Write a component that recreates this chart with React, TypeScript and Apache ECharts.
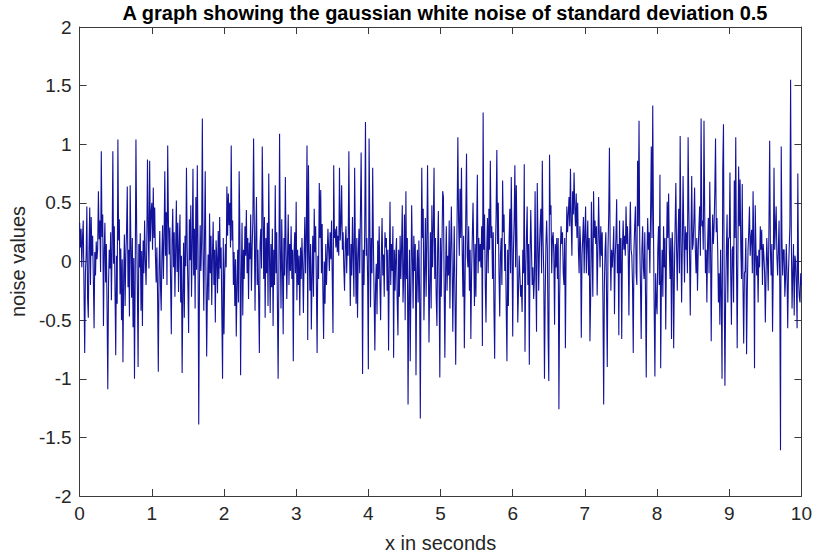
import React, { useEffect, useRef } from "react";
import * as echarts from "echarts";

const titleText = "A graph showing the gaussian white noise of standard deviation 0.5";
const xName = "x in seconds";
const yName = "noise values";
const step = 0.01;

const seg0 = [0.33,0.12,0.28,-0.05,0.21,0.35,-0.22,-0.78,-0.1,0.05,0.47,-0.31,-0.48,0.12,0.46,-0.2,0.38,0.05,0.22,-0.15,-0.57,0.08,-0.12,0.17,0.02,0.11,0.6,0.19,0.35,-0.09,0.94,0.21,0.4,-0.55,0.08,0.33,-0.18,0.15,-0.41,-1.09,-0.2,0.1,-0.06,0.25,-0.33,0.12,0.94,-0.02,0.3,-0.25,-0.8,0.05,-0.36,1.04,0.18,0.36,-0.28,0.11,-0.5,0.02,-0.86,-0.14,0.23,-0.38,0.06,0.26,0.64,-0.22,0.1,-0.47,0.65,0.14,-0.31,0.2,-0.56,0.03,-1.0,-0.12,1.04,0.27,-0.23,-0.9,0.15,-0.05,0.24,-0.42,0.09,-0.55,0.18,-0.1,0.35,0.02,-0.2,0.12,0.87,0.28,-0.06,0.86,0.17,0.42];
const seg1 = [0.5,0.1,0.63,0.2,0.46,0.05,-0.18,0.12,-0.3,-0.94,-0.08,0.26,-0.21,-0.42,0.07,0.31,-0.15,0.2,0.77,0.05,0.42,-0.2,0.99,0.34,0.06,0.29,-0.17,-0.62,0.18,0.45,-0.05,0.25,-0.3,0.1,0.52,-0.09,0.33,-0.26,0.14,0.4,-0.35,0.05,-0.95,-0.29,0.16,-0.48,0.22,-0.04,0.8,0.12,-0.22,-0.61,0.36,0.01,0.48,-0.3,0.15,0.79,-0.12,0.28,-0.4,0.55,-0.07,0.82,0.13,-1.39,-0.2,0.31,-0.08,0.17,1.22,0.06,-0.42,0.2,0.77,-0.14,-0.81,-0.25,0.06,-0.33,0.41,-0.1,0.22,-0.37,0.05,0.34,-0.2,0.1,-0.52,0.18,0.03,-0.27,0.26,-0.15,0.38,-0.06,0.12,-0.45,-1.0,0.2];
const seg2 = [-0.62,-0.1,0.15,-0.05,0.64,0.22,0.58,0.31,0.5,0.12,0.99,0.18,0.35,-0.2,0.08,-0.38,0.02,-0.64,-0.21,0.1,-0.35,0.77,0.25,-0.97,-0.12,0.33,-0.46,0.1,-0.15,0.3,0.05,0.44,-0.1,0.2,-0.32,0.16,0.02,0.4,-0.25,0.12,0.35,1.05,0.3,-0.42,0.2,0.55,-0.2,0.1,-0.3,-0.78,0.15,0.28,-0.06,0.98,0.45,-0.15,0.38,-0.48,0.2,-0.1,0.33,-0.38,0.75,0.04,-0.44,0.15,-0.22,0.28,-0.55,0.1,-0.2,0.65,-0.1,0.25,-0.35,-1.0,-0.15,1.09,0.12,-0.4,0.36,-0.05,-0.62,0.2,-0.12,0.72,0.1,-0.32,0.05,0.4,-0.2,0.15,-0.08,0.3,-0.15,0.1,-0.85,0.05,0.25,-0.1];
const seg3 = [0.51,-0.33,0.1,-0.2,0.05,-0.46,0.12,-0.15,0.2,-0.05,-0.44,0.06,0.38,-0.1,0.25,0.99,-0.67,0.82,0.1,-0.25,0.15,-0.58,-0.12,0.22,-0.3,0.45,0.08,0.3,-0.2,-0.78,0.05,-0.15,0.67,0.2,0.61,-0.1,0.32,-0.25,-0.66,0.0,-0.36,0.15,-0.2,0.05,0.28,0.1,-0.08,0.25,0.02,0.35,-0.15,-0.61,0.82,0.2,0.28,0.12,0.3,0.08,0.22,0.05,0.8,0.18,0.32,0.65,0.1,0.25,-0.05,-0.25,0.15,0.3,-0.1,0.2,0.05,0.94,0.1,-0.38,0.15,-0.12,0.38,0.05,-0.3,0.8,0.12,-0.36,0.2,-0.48,0.05,0.28,-0.1,0.4,0.93,0.15,-0.96,0.1,-0.2,0.3,1.19,0.05,0.2,-0.15];
const seg4 = [-0.92,1.05,0.35,-0.39,0.2,-0.1,0.8,0.15,-0.3,-0.76,-0.2,-0.02,-0.45,0.18,-0.15,0.3,-0.2,-0.5,0.05,0.37,-0.12,0.06,-0.3,0.25,0.12,0.2,-0.25,0.1,-0.76,-0.05,0.51,-0.2,0.15,-0.08,0.3,-0.82,0.1,-0.25,0.05,0.2,-0.35,-0.63,0.1,-0.3,0.22,-0.15,0.12,0.48,-0.35,-0.12,0.4,-0.5,0.6,-0.15,0.2,-1.22,-0.3,0.1,-0.85,-0.2,0.48,0.05,-0.4,0.22,-0.08,0.15,-0.97,-0.1,0.1,-0.35,0.18,-0.25,-1.34,-0.1,0.8,0.2,0.45,-0.5,-0.1,0.37,-0.3,0.15,0.82,0.1,-0.69,-0.2,0.25,-0.4,0.48,-0.05,0.3,0.8,-0.15,0.2,-0.3,-0.55,0.1,0.43,-0.2,-0.99];
const seg5 = [0.2,-0.3,0.15,0.6,0.55,-0.2,-0.82,-0.1,0.3,-0.25,0.05,-0.12,0.35,-0.4,0.1,0.47,0.02,-0.6,-0.1,0.3,-0.3,-0.88,-0.2,0.4,1.06,0.35,0.05,0.62,0.2,0.8,0.1,-0.3,0.22,-0.74,-0.15,0.4,0.92,0.05,-0.05,0.3,-0.25,0.1,-0.66,-0.1,0.2,0.5,0.1,-0.38,0.15,-0.3,0.25,0.74,-0.1,0.2,0.0,0.15,-0.05,0.3,-0.72,1.27,0.1,0.4,-0.2,-0.52,0.1,0.37,-0.1,0.45,0.1,0.86,0.2,0.3,-0.15,0.25,-0.4,-0.83,0.05,0.4,0.95,0.15,0.5,-0.1,-0.47,0.05,0.2,-0.2,0.69,0.25,0.4,-0.08,0.15,-0.4,-0.85,0.1,-0.38,0.2,0.45,-0.1,0.72,0.15];
const seg6 = [-0.64,0.1,0.35,0.82,-0.05,0.65,0.1,-0.52,-0.25,0.05,-0.12,-0.3,-0.2,-0.43,0.1,-0.1,0.83,-0.77,-0.1,0.2,0.47,-0.2,0.15,-0.88,0.05,0.44,0.1,-0.2,-0.05,-0.32,-0.15,0.6,-0.1,-0.6,0.67,0.2,-0.25,0.1,0.3,0.45,-0.1,0.86,0.2,-0.1,-1.0,-0.3,0.15,0.35,0.1,-0.63,-1.02,0.91,0.4,0.48,-0.1,0.2,0.25,0.05,-0.54,0.15,-0.05,0.2,-0.15,0.2,-1.26,-0.3,0.1,0.3,0.15,0.25,-0.1,-0.2,0.2,-0.74,0.1,0.47,0.25,0.4,0.55,0.3,0.79,0.35,0.05,0.6,0.4,0.76,0.45,0.3,0.58,0.2,0.5,0.1,-0.1,0.3,0.15,-0.65,0.05,0.2,0.38,-0.1];
const seg7 = [0.25,0.47,-0.1,0.15,0.35,-0.12,0.2,-0.68,-0.3,0.51,0.1,-0.3,0.6,0.2,0.35,0.15,0.3,-0.29,0.1,0.55,0.2,-0.05,0.3,0.05,0.25,-0.35,-1.22,-0.2,0.1,0.25,-0.3,-0.9,0.1,0.4,0.97,0.15,-0.25,0.1,-0.05,0.1,0.3,-0.45,0.05,0.2,0.53,-0.1,0.15,-0.63,0.35,-0.1,0.2,-0.66,0.1,0.35,0.1,0.22,0.05,0.47,0.15,0.3,0.08,-0.46,0.2,0.51,0.1,0.05,-0.2,-0.78,0.1,0.3,0.47,-0.1,-0.2,0.86,0.3,1.2,0.15,-0.2,-0.66,0.1,0.3,-0.05,-0.15,0.25,-0.3,-0.99,0.05,0.37,0.1,0.25,-0.1,0.4,0.98,0.2,1.33,0.3,-0.4,-0.98,-0.1,-0.35];
const seg8 = [-0.45,0.1,0.3,-0.2,0.74,-0.91,-0.2,0.1,-0.3,0.3,-0.05,0.2,-0.58,0.05,0.51,0.2,0.58,0.1,-0.15,0.2,-0.66,0.25,0.05,-0.74,-0.1,0.3,0.67,0.1,-0.25,0.2,0.45,-0.1,1.07,0.2,-0.35,0.15,0.73,0.25,-0.18,0.3,0.1,0.25,-0.1,1.06,0.45,0.05,-0.46,0.2,0.73,0.1,0.15,0.35,0.63,0.1,-0.1,0.2,-0.25,0.1,0.3,0.47,0.05,1.22,0.3,0.35,0.1,1.2,0.4,-0.1,0.1,-0.35,0.15,0.37,-0.1,0.68,0.2,-0.68,0.05,0.4,0.15,0.3,0.6,1.05,0.25,0.37,0.1,-0.35,-0.1,-0.54,0.1,-0.3,-1.0,0.79,1.17,-0.2,-1.06,-0.3,0.1,0.4,-0.35,0.2];
const seg9 = [0.2,0.76,-0.1,-0.54,0.1,0.13,-0.35,0.69,0.2,1.06,0.0,-0.74,0.1,0.81,0.3,0.7,0.1,-0.15,0.66,-0.2,-0.7,-0.1,-0.08,0.2,-0.79,-0.25,0.1,0.25,0.47,0.05,0.2,0.27,-0.1,0.6,0.15,-0.91,0.48,0.1,-0.12,0.05,-0.35,0.1,-0.05,0.3,0.1,0.27,-0.2,0.15,0.05,-0.1,-0.52,-0.1,0.2,0.0,-0.25,0.3,1.03,0.1,-0.12,0.15,-0.6,-0.05,0.8,0.1,0.3,0.47,0.05,-0.12,0.1,0.35,-0.2,-1.61,0.98,0.2,-0.12,0.1,0.1,-0.3,-0.15,0.15,-0.1,-0.57,-0.1,0.1,0.3,1.55,0.2,-0.4,-0.1,0.15,-0.46,0.05,0.0,-0.2,-0.57,0.75,-0.15,-0.3,-0.35,-0.1];
const lastValue = [-0.2];

const xTicks = { min: 0, max: 10, interval: 1 };
const yTicks = { min: -2, max: 2, interval: 0.5 };

export default function App() {
  const ref = useRef<HTMLDivElement>(null);
  useEffect(() => {
    if (!ref.current) return;
    const chart = echarts.init(ref.current, null, { renderer: "svg" });
    const values = [...seg0, ...seg1, ...seg2, ...seg3, ...seg4, ...seg5, ...seg6, ...seg7, ...seg8, ...seg9, ...lastValue];
    const data = values.map((v, i) => [+(i * step).toFixed(2), v]);
    const axisColor = "#3a3a3a";
    const labelColor = "#262626";
    const font = "'Liberation Sans', Arial, sans-serif";
    const baseAxis = {
      axisLine: { show: true, onZero: false, lineStyle: { color: axisColor, width: 1 } },
      axisTick: { show: true, inside: true, length: 7, lineStyle: { color: axisColor } },
      splitLine: { show: false },
    };
    chart.setOption({
      animation: false,
      backgroundColor: "#ffffff",
      title: {
        text: titleText,
        left: 440,
        top: -2,
        textAlign: "center",
        textStyle: { fontFamily: font, fontSize: 20, fontWeight: "bold", color: "#000" },
      },
      grid: { left: 76, right: 12, top: 27, bottom: 57 },
      xAxis: [
        {
          type: "value", ...xTicks, position: "bottom", ...baseAxis,
          name: xName, nameLocation: "middle", nameGap: 37,
          nameTextStyle: { fontFamily: font, fontSize: 20, color: labelColor },
          axisLabel: { show: true, margin: 8, fontFamily: font, fontSize: 19, color: labelColor },
        },
        {
          type: "value", ...xTicks, position: "top", ...baseAxis,
          axisLabel: { show: false },
        },
      ],
      yAxis: [
        {
          type: "value", ...yTicks, position: "left", ...baseAxis,
          name: yName, nameLocation: "middle", nameGap: 45,
          nameTextStyle: { fontFamily: font, fontSize: 20, color: labelColor },
          axisLabel: { show: true, margin: 8, fontFamily: font, fontSize: 19, color: labelColor },
        },
        {
          type: "value", ...yTicks, position: "right", ...baseAxis,
          axisLabel: { show: false },
        },
      ],
      series: [
        {
          type: "line",
          xAxisIndex: 0,
          yAxisIndex: 0,
          data,
          showSymbol: false,
          symbol: "none",
          lineStyle: { color: "#12129a", width: 1.1 },
        },
      ],
    });
    return () => chart.dispose();
  }, []);
  return <div ref={ref} style={{ position: "fixed", left: 0, top: 0, width: 815, height: 558 }} />;
}
